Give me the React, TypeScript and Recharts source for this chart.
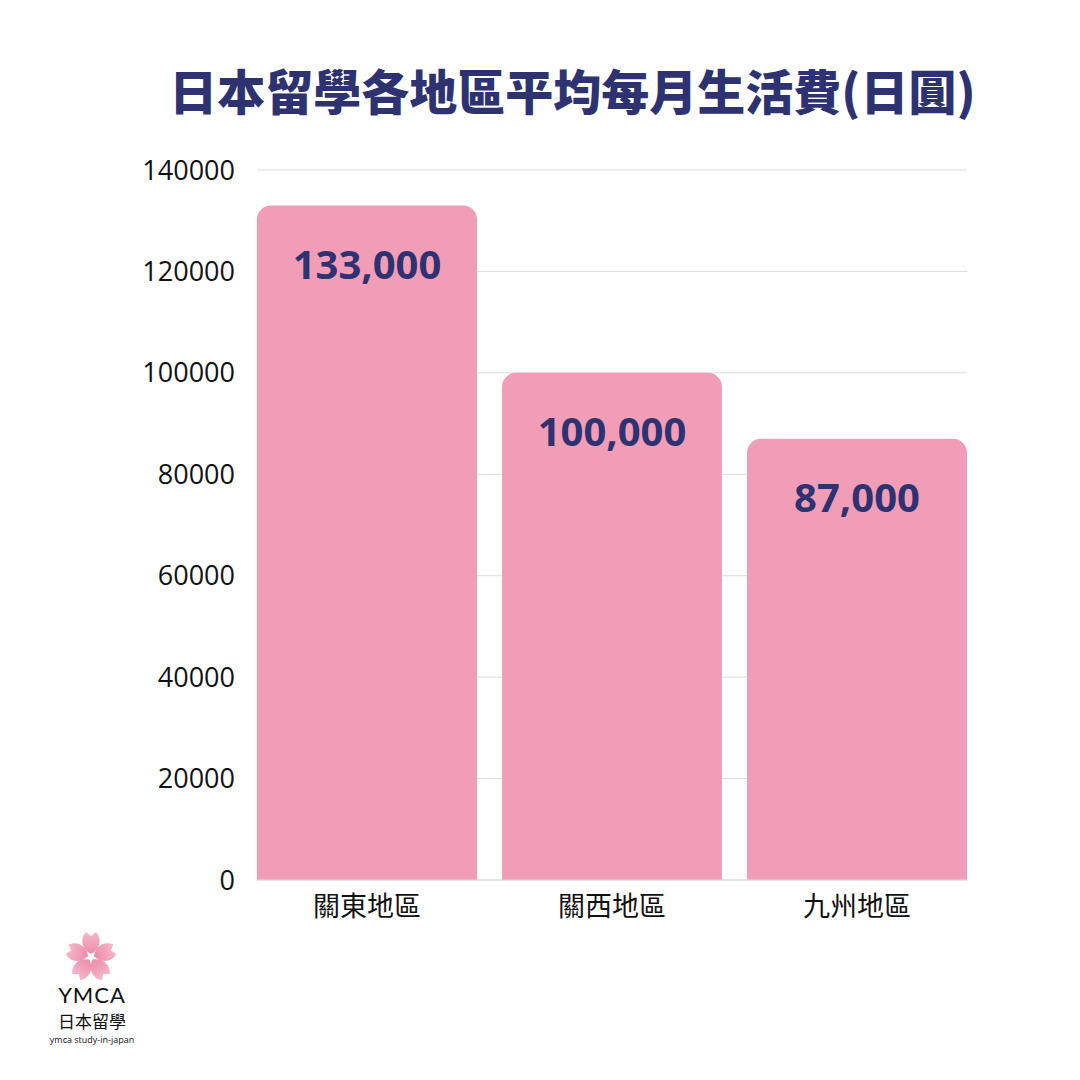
import { Bar, BarChart, CartesianGrid, LabelList, XAxis, YAxis } from 'recharts'

const regions = ['關東地區', '關西地區', '九州地區']
const monthlyCost = [133000, 100000, 87000]
const yTicks = [0, 20000, 40000, 60000, 80000, 100000, 120000, 140000]

const chartData = regions.map((region, i) => ({ region, cost: monthlyCost[i] }))

const NAVY = '#2e3270'
const PINK = '#f19db7'
const GRID = '#dcdcdc'

function Logo() {
  const petals = [0, 72, 144, 216, 288]
  return (
    <div style={{ position: 'absolute', left: 40, top: 925, width: 104, textAlign: 'center' }}>
      <svg width={104} height={56} viewBox="0 0 104 56" style={{ display: 'block' }}>
        <defs>
          <linearGradient id="petal" x1="0" y1="0" x2="0" y2="1">
            <stop offset="0%" stopColor="#f7b8cc" />
            <stop offset="100%" stopColor="#ec8aa8" />
          </linearGradient>
        </defs>
        <g transform="translate(51,32)">
          {petals.map((deg) => (
            <path
              key={deg}
              transform={`rotate(${deg})`}
              d="M0,-3 C-10,-8 -11,-19 -5,-25 L0,-21 L5,-25 C11,-19 10,-8 0,-3 Z"
              fill="url(#petal)"
            />
          ))}
        </g>
      </svg>
      <div style={{ fontFamily: 'Lato, sans-serif', fontSize: 22, lineHeight: '27px', height: 27, color: '#111', letterSpacing: 1 }}>YMCA</div>
      <div style={{ fontFamily: '"Noto Sans CJK TC", sans-serif', fontSize: 17, lineHeight: '26px', height: 26, color: '#111' }}>日本留學</div>
      <div style={{ fontFamily: '"Open Sans", sans-serif', fontSize: 9, lineHeight: '12px', color: '#111' }}>ymca study-in-japan</div>
    </div>
  )
}

export default function App() {
  return (
    <div style={{ position: 'absolute', left: 0, top: 0, width: 1080, height: 1080, background: '#fff', overflow: 'hidden' }}>
      <div
        style={{
          position: 'absolute',
          left: 0,
          top: 58,
          width: 1145,
          textAlign: 'center',
          fontFamily: '"Noto Sans CJK TC", sans-serif',
          fontWeight: 900,
          fontSize: 48,
          lineHeight: '62px',
          color: NAVY,
        }}
      >
        日本留學各地區平均每月生活費(日圓)
      </div>
      <BarChart
        width={1080}
        height={1080}
        data={chartData}
        margin={{ top: 170, right: 113, bottom: 140, left: 0 }}
        barCategoryGap={12.5}
      >
        <CartesianGrid horizontal vertical={false} stroke={GRID} strokeWidth={1} />
        <XAxis
          dataKey="region"
          height={60}
          padding={{ left: -12.5, right: -12.5 }}
          axisLine={{ stroke: GRID }}
          tickLine={false}
          tickMargin={11}
          tick={{ fontSize: 27, fill: '#111', fontFamily: '"Noto Sans CJK TC", sans-serif' }}
        />
        <YAxis
          width={257}
          domain={[0, 140000]}
          ticks={yTicks}
          axisLine={false}
          tickLine={false}
          tickMargin={16}
          tick={{ fontSize: 27, fill: '#111', fontFamily: '"Open Sans", sans-serif' }}
        />
        <Bar dataKey="cost" fill={PINK} radius={[14, 14, 0, 0]} isAnimationActive={false}>
          <LabelList
            dataKey="cost"
            position="insideTop"
            offset={45}
            formatter={(v: any) => Number(v).toLocaleString('en-US')}
            style={{ fontSize: 40, fontWeight: 700, fill: NAVY, fontFamily: '"Open Sans", sans-serif' }}
          />
        </Bar>
      </BarChart>
      <Logo />
    </div>
  )
}
